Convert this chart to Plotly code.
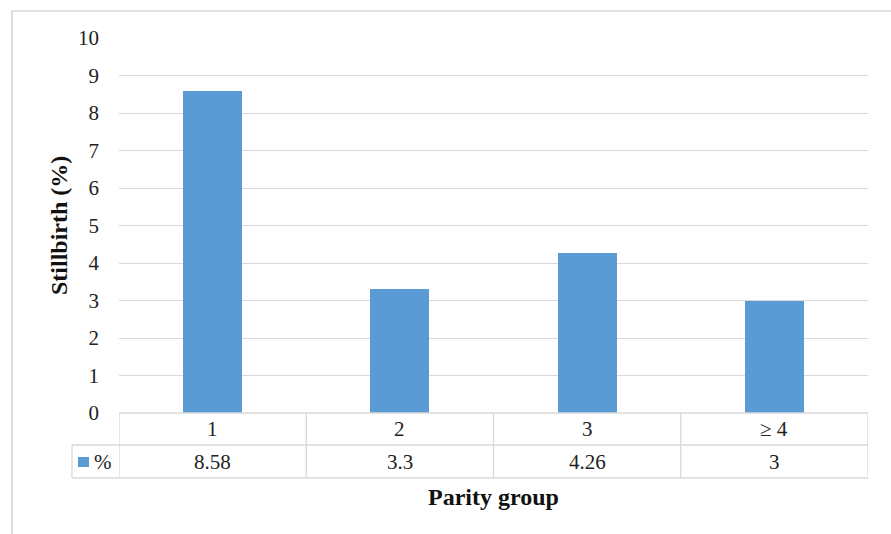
import plotly.graph_objects as go

categories = ["1", "2", "3", "\u2265 4"]
values = [8.58, 3.3, 4.26, 3]
value_labels = ["8.58", "3.3", "4.26", "3"]
series_name = "%"
y_ticks = [0, 1, 2, 3, 4, 5, 6, 7, 8, 9, 10]

W, H = 891, 534
L, R, T, B = 119, 23, 38, 121
pw, ph = W - L - R, H - T - B

bar_color = "#5b9bd5"
grid_color = "#d9d9d9"
font_family = "Liberation Serif"


def py(p):
    return (T + ph - p) / ph


def px(p):
    return (p - L) / pw


fig = go.Figure()
x_idx = list(range(len(categories)))
fig.add_trace(go.Bar(x=x_idx, y=values, width=0.315, marker=dict(color=bar_color, line=dict(width=0)),
                     name=series_name, showlegend=False, hoverinfo="skip"))

row0 = 413
row1_bot = 445
row2_bot = 478
left_col = 72

shapes = []
line = dict(color=grid_color, width=1.3)
shapes.append(dict(type="line", xref="paper", yref="paper", x0=0, x1=1, y0=py(row0), y1=py(row0), line=line))
shapes.append(dict(type="line", xref="paper", yref="paper", x0=px(left_col), x1=1, y0=py(row1_bot), y1=py(row1_bot), line=line))
shapes.append(dict(type="line", xref="paper", yref="paper", x0=px(left_col), x1=1, y0=py(row2_bot), y1=py(row2_bot), line=line))
shapes.append(dict(type="line", xref="paper", yref="paper", x0=px(left_col), x1=px(left_col), y0=py(row1_bot), y1=py(row2_bot), line=line))
for i in range(len(categories) + 1):
    shapes.append(dict(type="line", xref="x", yref="paper", x0=i - 0.5, x1=i - 0.5, y0=py(row0), y1=py(row2_bot), line=line))
shapes.append(dict(type="rect", xref="paper", yref="paper", x0=px(78), x1=px(89), y0=py(467), y1=py(457),
                   fillcolor=bar_color, line=dict(width=0)))
shapes.append(dict(type="line", xref="paper", yref="paper", x0=px(12), x1=px(12), y0=py(11), y1=py(540),
                   line=dict(color="#c8c8c8", width=1.2)))
shapes.append(dict(type="line", xref="paper", yref="paper", x0=px(12), x1=px(895), y0=py(11), y1=py(11),
                   line=dict(color="#c8c8c8", width=1.2)))

annotations = []
tfont = dict(family=font_family, size=21, color="#222222")
for i, c in enumerate(categories):
    annotations.append(dict(x=i, y=py((row0 + row1_bot) / 2), xref="x", yref="paper", text=c, showarrow=False,
                            font=tfont, xanchor="center", yanchor="middle"))
    annotations.append(dict(x=i, y=py((row1_bot + row2_bot) / 2), xref="x", yref="paper", text=value_labels[i],
                            showarrow=False, font=tfont, xanchor="center", yanchor="middle"))
annotations.append(dict(x=px(92), y=py((row1_bot + row2_bot) / 2), xref="paper", yref="paper", text=series_name,
                        showarrow=False, font=tfont, xanchor="left", yanchor="middle"))
annotations.append(dict(x=0.5, y=py(497), xref="paper", yref="paper", text="<b>Parity group</b>", showarrow=False,
                        font=dict(family=font_family, size=24, color="#111111"), xanchor="center", yanchor="middle"))
annotations.append(dict(x=px(59), y=py(226), xref="paper", yref="paper", text="<b>Stillbirth (%)</b>", showarrow=False,
                        textangle=-90, font=dict(family=font_family, size=24, color="#111111"),
                        xanchor="center", yanchor="middle"))

fig.update_layout(
    width=W, height=H,
    font=dict(family=font_family),
    margin=dict(l=L, r=R, t=T, b=B, pad=0),
    plot_bgcolor="white", paper_bgcolor="white",
    shapes=shapes, annotations=annotations,
    bargap=0,
    xaxis=dict(range=[-0.5, len(categories) - 0.5], showticklabels=False, showgrid=False, zeroline=False,
               showline=False, ticks="", fixedrange=True),
    yaxis=dict(range=[0, 10], tickvals=y_ticks, showgrid=True, gridcolor=grid_color, gridwidth=1.3,
               zeroline=False, showline=False, ticks="", ticklabelstandoff=19, fixedrange=True,
               tickfont=dict(family=font_family, size=21, color="#222222")),
)
fig.write_html("out.html", config={"displayModeBar": False},
               post_script="document.body.style.margin='0';document.body.style.overflow='hidden';")
